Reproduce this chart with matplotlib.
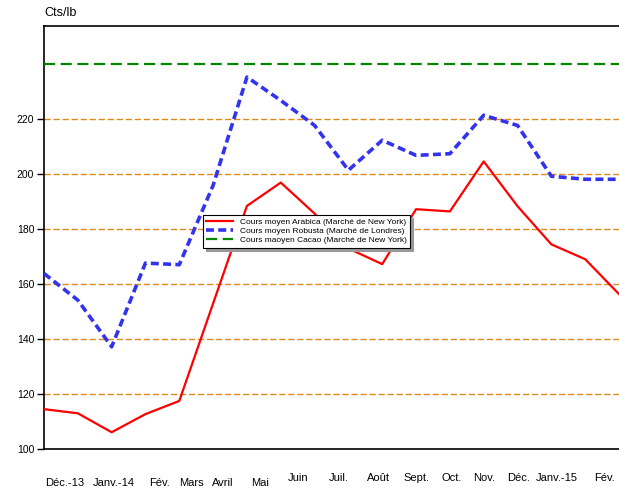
import numpy as np
import matplotlib.pyplot as plt

plt.rcParams['font.family'] = ['Liberation Sans Narrow', 'Liberation Sans', 'DejaVu Sans']

# monthly averages, Cts/lb
arabica = [114.5, 113.0, 106.1, 112.7, 117.5, 153.0, 188.5, 197.0, 185.7, 173.0,
           167.3, 187.3, 186.5, 204.7, 188.4, 174.5, 169.1, 156.4]
robusta = [163.9, 154.2, 137.2, 167.7, 167.1, 196.0, 235.4, 226.9, 217.8, 201.5,
           212.4, 206.9, 207.5, 221.5, 217.8, 199.3, 198.2, 198.2]
cacao = 240.0

month_labels = ['Déc.-13', 'Janv.-14', 'Fév.', 'Mars', 'Avril', 'Mai',
                'Juin', 'Juil.', 'Août', 'Sept.', 'Oct.', 'Nov.', 'Déc.',
                'Janv.-15', 'Fév.']
month_pos = [0.6, 2.05, 3.4, 4.35, 5.27, 6.39,
             7.51, 8.72, 9.88, 11.0, 12.04, 13.02, 14.02, 15.17, 16.57]
yticks = [100, 120, 140, 160, 180, 200, 220]

fig = plt.figure(figsize=(6.19, 4.88), dpi=100)
ax = fig.add_axes([44 / 619, 39 / 488, 575 / 619, 423 / 488])

x = np.arange(len(arabica))
for yv in yticks[1:]:
    ax.axhline(yv, color='#E08A1E', lw=1.0, ls=(0, (4.5, 2)), zorder=1)

ax.plot(x, arabica, color='#FF0000', lw=1.6, zorder=3,
        label='Cours moyen Arabica (Marché de New York)')
ax.plot(x, robusta, color='#3333EE', lw=2.6, ls=(0, (2.2, 1.2)), zorder=3,
        label='Cours moyen Robusta (Marché de Londres)')
ax.axhline(cacao, color='#008800', lw=1.6, ls=(0, (5, 2.5)), zorder=3,
           label='Cours maoyen Cacao (Marché de New York)')

ax.set_xlim(0, 17)
ax.set_ylim(100, 254)
ax.set_yticks(yticks)
ax.tick_params(axis='y', labelsize=7.5, length=5, width=1, direction='out', pad=2)
ax.set_xticks([])

for i, (p, lab) in enumerate(zip(month_pos, month_labels)):
    yoff = -0.080 if i < 6 else -0.068
    ax.text(p, yoff, lab, transform=ax.get_xaxis_transform(),
            ha='center', va='center', fontsize=8)

ax.spines['right'].set_visible(False)
for s in ['left', 'bottom', 'top']:
    ax.spines[s].set_linewidth(1.2)

fig.text(44 / 619, 1 - 13 / 488, 'Cts/lb', fontsize=9, ha='left', va='center')

leg = ax.legend(loc='upper left', bbox_to_anchor=(0.2765, 0.553), borderaxespad=0,
                fontsize=6, frameon=True, fancybox=False, shadow={'color': '0.6', 'alpha': 1},
                handlelength=3.2, labelspacing=0.15, borderpad=0.4)
leg.get_frame().set_edgecolor('black')
leg.get_frame().set_linewidth(0.8)

fig.savefig('out.png', dpi=100)
